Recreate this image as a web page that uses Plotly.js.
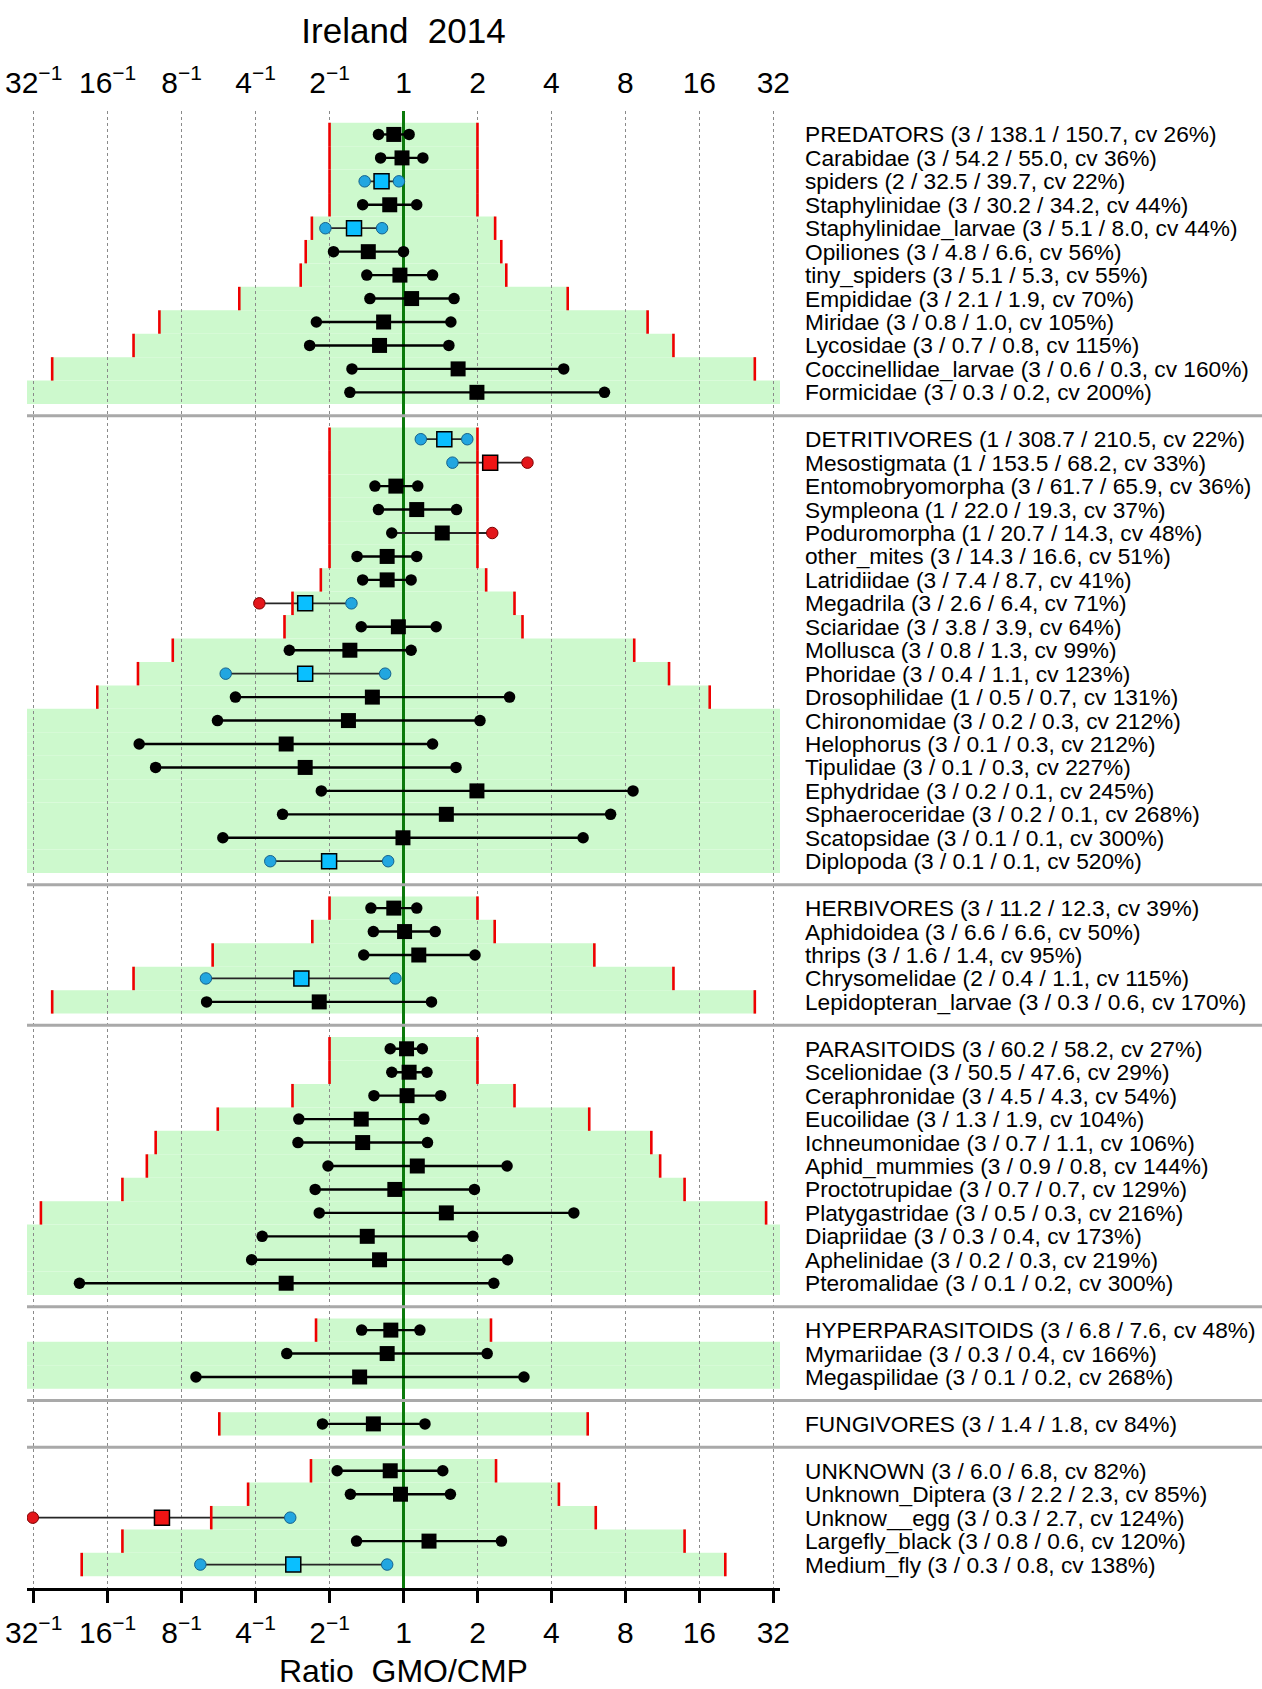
<!DOCTYPE html>
<html>
<head>
<meta charset="utf-8">
<script src="https://cdn.plot.ly/plotly-3.0.1.min.js"></script>
<style>html,body{margin:0;padding:0;background:#fff}</style>
</head>
<body>
<div id="chart" style="width:1262px;height:1689px"></div>
<script>
// Functional groups, drawn top to bottom, one blank slot between groups
const groupSizes = [12, 19, 5, 11, 3, 1, 5];

const taxon = [
  "PREDATORS", "Carabidae", "spiders", "Staphylinidae", "Staphylinidae_larvae", "Opiliones",
  "tiny_spiders", "Empididae", "Miridae", "Lycosidae", "Coccinellidae_larvae", "Formicidae",
  "DETRITIVORES", "Mesostigmata", "Entomobryomorpha", "Sympleona", "Poduromorpha", "other_mites",
  "Latridiidae", "Megadrila", "Sciaridae", "Mollusca", "Phoridae", "Drosophilidae", "Chironomidae",
  "Helophorus", "Tipulidae", "Ephydridae", "Sphaeroceridae", "Scatopsidae", "Diplopoda",
  "HERBIVORES", "Aphidoidea", "thrips", "Chrysomelidae", "Lepidopteran_larvae",
  "PARASITOIDS", "Scelionidae", "Ceraphronidae", "Eucoilidae", "Ichneumonidae", "Aphid_mummies",
  "Proctotrupidae", "Platygastridae", "Diapriidae", "Aphelinidae", "Pteromalidae",
  "HYPERPARASITOIDS", "Mymariidae", "Megaspilidae",
  "FUNGIVORES",
  "UNKNOWN", "Unknown_Diptera", "Unknow__egg", "Largefly_black", "Medium_fly"
];

const nYears = [
  3, 3, 2, 3, 3, 3, 3, 3, 3, 3, 3, 3,
  1, 1, 3, 1, 1, 3, 3, 3, 3, 3, 3, 1, 3, 3, 3, 3, 3, 3, 3,
  3, 3, 3, 2, 3,
  3, 3, 3, 3, 3, 3, 3, 3, 3, 3, 3,
  3, 3, 3,
  3,
  3, 3, 3, 3, 3
];

const meanGMO = [
  138.1, 54.2, 32.5, 30.2, 5.1, 4.8, 5.1, 2.1, 0.8, 0.7, 0.6, 0.3,
  308.7, 153.5, 61.7, 22.0, 20.7, 14.3, 7.4, 2.6, 3.8, 0.8, 0.4, 0.5, 0.2, 0.1, 0.1, 0.2, 0.2, 0.1, 0.1,
  11.2, 6.6, 1.6, 0.4, 0.3,
  60.2, 50.5, 4.5, 1.3, 0.7, 0.9, 0.7, 0.5, 0.3, 0.2, 0.1,
  6.8, 0.3, 0.1,
  1.4,
  6.0, 2.2, 0.3, 0.8, 0.3
];

const meanCMP = [
  150.7, 55.0, 39.7, 34.2, 8.0, 6.6, 5.3, 1.9, 1.0, 0.8, 0.3, 0.2,
  210.5, 68.2, 65.9, 19.3, 14.3, 16.6, 8.7, 6.4, 3.9, 1.3, 1.1, 0.7, 0.3, 0.3, 0.3, 0.1, 0.1, 0.1, 0.1,
  12.3, 6.6, 1.4, 1.1, 0.6,
  58.2, 47.6, 4.3, 1.9, 1.1, 0.8, 0.7, 0.3, 0.4, 0.3, 0.2,
  7.6, 0.4, 0.2,
  1.8,
  6.8, 2.3, 2.7, 0.6, 0.8
];

const cvPct = [
  26, 36, 22, 44, 44, 56, 55, 70, 105, 115, 160, 200,
  22, 33, 36, 37, 48, 51, 41, 71, 64, 99, 123, 131, 212, 212, 227, 245, 268, 300, 520,
  39, 50, 95, 115, 170,
  27, 29, 54, 104, 106, 144, 129, 216, 173, 219, 300,
  48, 166, 268,
  84,
  82, 85, 124, 120, 138
];

// Ratio GMO/CMP: lower confidence limit, estimate, upper confidence limit
const ratioLow = [
  0.791, 0.807, 0.695, 0.682, 0.481, 0.519, 0.709, 0.730, 0.442, 0.415, 0.617, 0.605,
  1.176, 1.582, 0.765, 0.791, 0.896, 0.647, 0.682, 0.259, 0.673, 0.343, 0.189, 0.207, 0.175, 0.084, 0.098, 0.463, 0.322, 0.184, 0.287,
  0.737, 0.754, 0.689, 0.157, 0.158,
  0.883, 0.896, 0.758, 0.375, 0.372, 0.493, 0.437, 0.454, 0.266, 0.241, 0.048,
  0.676, 0.335, 0.143,
  0.468,
  0.537, 0.608, 0.031, 0.644, 0.149
];

const ratioEst = [
  0.913, 0.986, 0.814, 0.879, 0.629, 0.719, 0.967, 1.079, 0.830, 0.799, 1.668, 1.990,
  1.466, 2.253, 0.931, 1.132, 1.438, 0.858, 0.858, 0.398, 0.953, 0.605, 0.398, 0.747, 0.597, 0.333, 0.398, 1.990, 1.494, 0.995, 0.498,
  0.913, 1.010, 1.154, 0.384, 0.454,
  1.029, 1.054, 1.034, 0.673, 0.682, 1.138, 0.922, 1.494, 0.712, 0.799, 0.333,
  0.888, 0.858, 0.663,
  0.754,
  0.883, 0.972, 0.104, 1.270, 0.356
];

const ratioHigh = [
  1.054, 1.199, 0.958, 1.132, 0.818, 1.000, 1.313, 1.606, 1.559, 1.530, 4.488, 6.575,
  1.818, 3.195, 1.143, 1.644, 2.297, 1.132, 1.074, 0.614, 1.358, 1.074, 0.842, 2.702, 2.048, 1.313, 1.636, 8.592, 6.964, 5.382, 0.866,
  1.132, 1.346, 1.954, 0.927, 1.300,
  1.193, 1.246, 1.417, 1.211, 1.252, 2.639, 1.944, 4.935, 1.916, 2.652, 2.331,
  1.166, 2.190, 3.091,
  1.223,
  1.445, 1.552, 0.346, 2.504, 0.858
];

// Equivalence limit (upper); the lower limit is its reciprocal
const equivLimit = [
  2, 2, 2, 2, 2.36, 2.50, 2.62, 4.66, 9.85, 12.55, 26.9, 45,
  2, 2, 2, 2, 2, 2, 2.17, 2.83, 3.05, 8.69, 12.04, 17.63, 48, 48, 52, 56, 64, 72, 128,
  2, 2.35, 5.98, 12.55, 26.9,
  2, 2, 2.83, 5.70, 10.2, 11.08, 13.93, 29.9, 38, 48, 72,
  2.27, 40, 64,
  5.62,
  2.38, 4.29, 6.06, 13.93, 20.4
];

// Test outcome for each end point and the estimate: k = none, b = equivalent, r = different
const flagLow = [
  "k","k","b","k","b","k","k","k","k","k","k","k",
  "b","b","k","k","k","k","k","r","k","k","b","k","k","k","k","k","k","k","b",
  "k","k","k","b","k",
  "k","k","k","k","k","k","k","k","k","k","k",
  "k","k","k",
  "k",
  "k","k","r","k","b"
];
const flagEst = [
  "k","k","b","k","b","k","k","k","k","k","k","k",
  "b","r","k","k","k","k","k","b","k","k","b","k","k","k","k","k","k","k","b",
  "k","k","k","b","k",
  "k","k","k","k","k","k","k","k","k","k","k",
  "k","k","k",
  "k",
  "k","k","r","k","b"
];
const flagHigh = [
  "k","k","b","k","b","k","k","k","k","k","k","k",
  "b","r","k","k","r","k","k","b","k","k","b","k","k","k","k","k","k","k","b",
  "k","k","k","b","k",
  "k","k","k","k","k","k","k","k","k","k","k",
  "k","k","k",
  "k",
  "k","k","b","k","b"
];

// Axis ticks: powers of two from 1/32 to 32
const tickRatio = [1/32, 1/16, 1/8, 1/4, 1/2, 1, 2, 4, 8, 16, 32];
const tickText = ["32<sup>\u22121</sup>", "16<sup>\u22121</sup>", "8<sup>\u22121</sup>", "4<sup>\u22121</sup>",
                  "2<sup>\u22121</sup>", "1", "2", "4", "8", "16", "32"];

// ---------------------------------------------------------------
const lg = v => Math.log2(v);
const tickPos = tickRatio.map(lg);

// Row slots: consecutive within a group, a blank slot between groups
const rowY = [];
const gapY = [];
let slot = 1;
groupSizes.forEach((n, g) => {
  for (let i = 0; i < n; i++) rowY.push(slot++);
  if (g < groupSizes.length - 1) gapY.push(slot++);
});
const yTop = 0, yBottom = slot;

const labels = taxon.map((t, i) =>
  `${t} (${nYears[i]} / ${meanGMO[i].toFixed(1)} / ${meanCMP[i].toFixed(1)}, cv ${cvPct[i]}%)`);

const dotFill = {k: "#000000", b: "#22a6e0", r: "#e3161b"};
const dotEdge = {k: "#000000", b: "#14618c", r: "#7d0000"};
const boxFill = {k: "#000000", b: "#0abfff", r: "#f01414"};

const shapes = [];
// green equivalence band per row
rowY.forEach((y, i) => {
  const h = lg(equivLimit[i]);
  shapes.push({type: "rect", xref: "x", yref: "y", x0: -h, x1: h, y0: y - 0.5, y1: y + 0.5,
               fillcolor: "#cdf9cd", line: {width: 0}, layer: "below"});
});
// red marks at the equivalence limits
rowY.forEach((y, i) => {
  const h = lg(equivLimit[i]);
  [-h, h].forEach(x => shapes.push({type: "line", xref: "x", yref: "y", x0: x, x1: x,
    y0: y - 0.5, y1: y + 0.5, line: {color: "#ee0000", width: 2.6}, layer: "above"}));
});
// grey rules between groups, running on under the labels
const plotW = 1262 - 27 - 482;
gapY.forEach(y => shapes.push({type: "line", xref: "paper", yref: "y", x0: 0, x1: (1262 - 27) / plotW,
  y0: y, y1: y, line: {color: "#a9a9a9", width: 3}, layer: "above"}));

// confidence-interval segments
const segPlain = {x: [], y: []}, segFlag = {x: [], y: []};
rowY.forEach((y, i) => {
  const plain = flagLow[i] === "k" && flagEst[i] === "k" && flagHigh[i] === "k";
  const s = plain ? segPlain : segFlag;
  s.x.push(lg(ratioLow[i]), lg(ratioHigh[i]), null);
  s.y.push(y, y, null);
});

const dots = {x: [], y: [], fill: [], edge: [], w: []};
rowY.forEach((y, i) => {
  [[ratioLow[i], flagLow[i]], [ratioHigh[i], flagHigh[i]]].forEach(([v, f]) => {
    dots.x.push(lg(v)); dots.y.push(y);
    dots.fill.push(dotFill[f]); dots.edge.push(dotEdge[f]); dots.w.push(f === "k" ? 0 : 1);
  });
});

const traces = [
  {type: "scatter", mode: "lines", x: segPlain.x, y: segPlain.y, line: {color: "#000", width: 2.4},
   hoverinfo: "skip", connectgaps: false},
  {type: "scatter", mode: "lines", x: segFlag.x, y: segFlag.y, line: {color: "#262626", width: 1.8},
   hoverinfo: "skip", connectgaps: false},
  {type: "scatter", mode: "markers", x: dots.x, y: dots.y, hoverinfo: "skip",
   marker: {symbol: "circle", size: 11.5, color: dots.fill, line: {color: dots.edge, width: dots.w}}},
  {type: "scatter", mode: "markers", x: ratioEst.map(lg), y: rowY, hoverinfo: "skip",
   marker: {symbol: "square", size: 15, color: flagEst.map(f => boxFill[f]),
            line: {color: "#000", width: flagEst.map(f => f === "k" ? 0 : 1.5)}}},
  {type: "scatter", mode: "markers", x: [0], y: [-100], xaxis: "x2", hoverinfo: "skip",
   marker: {opacity: 0}}
];

const xr = [-5.09, 5.09];
const layout = {
  width: 1262, height: 1689,
  margin: {l: 27, r: 482, t: 111, b: 101, pad: 0},
  paper_bgcolor: "#ffffff", plot_bgcolor: "#ffffff",
  showlegend: false,
  font: {family: "Liberation Sans, Arial, sans-serif", color: "#000000"},
  title: {text: "Ireland\u00a0 2014", x: 0.5, xref: "paper", xanchor: "center",
          y: 1 - 31 / 1689, yref: "container", yanchor: "middle", font: {size: 35, color: "#000"}},
  xaxis: {range: xr, tickvals: tickPos, ticktext: tickText, tickfont: {size: 30},
          showgrid: true, gridcolor: "#8a8a8a", gridwidth: 1, griddash: "3px,3px",
          zeroline: true, zerolinecolor: "#0b7a0b", zerolinewidth: 3,
          showline: true, linecolor: "#000", linewidth: 3,
          ticks: "outside", ticklen: 12, tickwidth: 3, tickcolor: "#000",
          ticklabelstandoff: 4, fixedrange: true},
  xaxis2: {range: xr, overlaying: "x", side: "top", anchor: "y", tickvals: tickPos, ticktext: tickText,
           tickfont: {size: 30}, showgrid: false, zeroline: false, showline: false, ticks: "",
           ticklabelstandoff: 11, fixedrange: true},
  yaxis: {range: [yBottom, yTop], side: "right", tickvals: rowY, ticktext: labels,
          tickfont: {size: 22.7}, showgrid: false, zeroline: false, showline: false, ticks: "",
          ticklabelstandoff: 24, fixedrange: true},
  annotations: [{text: "Ratio\u00a0 GMO/CMP", xref: "paper", yref: "paper", x: 0.5,
                 y: -(1671 - 1588) / (1689 - 111 - 101), xanchor: "center", yanchor: "middle",
                 showarrow: false, font: {size: 32}}],
  shapes: shapes
};

Plotly.newPlot("chart", traces, layout, {staticPlot: true, displayModeBar: false});
</script>
</body>
</html>
